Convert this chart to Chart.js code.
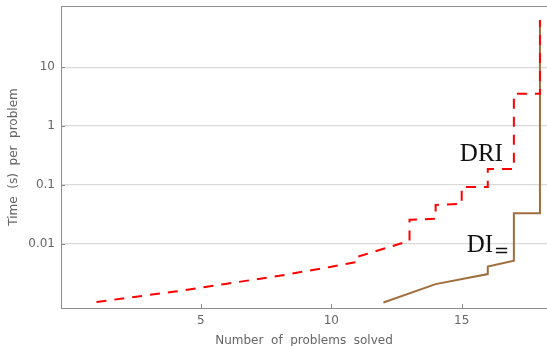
<!DOCTYPE html>
<html>
<head>
<meta charset="utf-8">
<title>Time per problem</title>
<script src="https://cdn.jsdelivr.net/npm/chart.js@4.4.1/dist/chart.umd.min.js"></script>
<style>
html, body { margin: 0; padding: 0; background: #fff; }
canvas { display: block; }
</style>
</head>
<body>
<canvas id="canvas" width="547" height="346"></canvas>
<script>
// cactus data: number of problems solved vs time per problem
var solvedDRI = [1, 2, 3, 4, 5, 6, 7, 8, 9, 10, 11, 11, 12, 13, 13, 14, 14, 15, 15, 16, 16, 17, 17, 18, 18];
var timeDRI = [0.00101, 0.00116, 0.00133, 0.00152, 0.00177, 0.00207, 0.00242, 0.00282, 0.00337, 0.00402,
               0.00489, 0.00594, 0.00813, 0.0111, 0.0253, 0.0263, 0.0455, 0.0473, 0.092, 0.092, 0.186,
               0.186, 3.52, 3.52, 63.7];

var solvedDI = [12, 14, 16, 16, 17, 17, 18, 18];
var timeDI = [0.00099, 0.00204, 0.00302, 0.00407, 0.00508, 0.0329, 0.0329, 63.7];

var xTicks = [5, 10, 15];
var yTicks = [0.01, 0.1, 1, 10];
var yTickLabels = ['0.01', '0.1', '1', '10'];

function toPoints(xs, ys) {
  var pts = [];
  for (var i = 0; i < xs.length; i++) pts.push({x: xs[i], y: ys[i]});
  return pts;
}

var axisGray = '#8c8c8c';
var textGray = '#666666';

var framePlugin = {
  id: 'frame',
  afterDatasetsDraw: function(chart) {
    var ctx = chart.ctx, a = chart.chartArea;
    var xs = chart.scales.x, ys = chart.scales.y;
    ctx.save();
    // top border
    ctx.strokeStyle = axisGray;
    ctx.lineWidth = 1;
    ctx.beginPath();
    ctx.moveTo(a.left, a.top + 0.5);
    ctx.lineTo(a.right, a.top + 0.5);
    ctx.stroke();
    // inner tick marks
    ctx.beginPath();
    xTicks.forEach(function(v) {
      var px = Math.round(xs.getPixelForValue(v)) + 0.5;
      ctx.moveTo(px, a.bottom);
      ctx.lineTo(px, a.bottom - 4);
    });
    yTicks.forEach(function(v) {
      var py = Math.round(ys.getPixelForValue(v)) + 0.5;
      ctx.moveTo(a.left, py);
      ctx.lineTo(a.left + 4, py);
    });
    ctx.stroke();

    // series labels
    ctx.fillStyle = '#111';
    ctx.textAlign = 'left';
    ctx.textBaseline = 'alphabetic';
    ctx.font = '25px "Liberation Serif"';
    ctx.fillText('DRI', xs.getPixelForValue(14.93), ys.getPixelForValue(0.255));
    var dx = xs.getPixelForValue(15.19), dy = ys.getPixelForValue(0.00714);
    ctx.fillText('DI', dx, dy);
    var w = ctx.measureText('DI').width;
    ctx.font = '18px "DejaVu Serif"';
    ctx.fillText('=', dx + w + 1, dy + 5);
    ctx.restore();
  }
};

var config = {
  type: 'line',
  data: {
    datasets: [
      {
        label: 'DRI',
        data: toPoints(solvedDRI, timeDRI),
        borderColor: '#ff0000',
        borderWidth: 2,
        borderDash: [10, 8],
        pointRadius: 0,
        fill: false,
        tension: 0
      },
      {
        label: 'DI=',
        data: toPoints(solvedDI, timeDI),
        borderColor: '#a06e3c',
        borderWidth: 2,
        pointRadius: 0,
        fill: false,
        tension: 0
      }
    ]
  },
  options: {
    responsive: false,
    animation: false,
    devicePixelRatio: 1,
    layout: { padding: { top: 6, right: 0, left: 0, bottom: 0 } },
    plugins: {
      legend: { display: false },
      tooltip: { enabled: false }
    },
    scales: {
      x: {
        type: 'linear',
        min: -0.36,
        max: 18.27,
        grid: { display: false, drawTicks: false },
        border: { display: true, color: axisGray, width: 1 },
        afterBuildTicks: function(scale) {
          scale.ticks = xTicks.map(function(v) { return {value: v}; });
        },
        afterFit: function(scale) {
          scale.height = 38;
          scale.paddingLeft = 0;
          scale.paddingRight = 0;
        },
        ticks: {
          autoSkip: false,
          maxRotation: 0,
          padding: 6,
          color: textGray,
          font: { family: 'DejaVu Sans', size: 12 },
          callback: function(v) { return String(v); }
        },
        title: {
          display: true,
          text: 'Number  of  problems  solved',
          color: textGray,
          font: { family: 'DejaVu Sans', size: 12 },
          padding: { top: 0, bottom: -2 }
        }
      },
      y: {
        type: 'logarithmic',
        min: 0.0008,
        max: 110,
        grid: { display: true, color: '#dadada', lineWidth: 1.3, drawTicks: false },
        border: { display: true, color: axisGray, width: 1 },
        afterBuildTicks: function(scale) {
          scale.ticks = yTicks.map(function(v) { return {value: v}; });
        },
        afterFit: function(scale) {
          scale.width = 61;
          scale.paddingTop = 0;
          scale.paddingBottom = 0;
        },
        ticks: {
          autoSkip: false,
          padding: 6,
          color: textGray,
          font: { family: 'DejaVu Sans', size: 12 },
          callback: function(v) {
            var i = yTicks.indexOf(v);
            return i >= 0 ? yTickLabels[i] : '';
          }
        },
        title: {
          display: true,
          text: 'Time  (s)  per  problem',
          color: textGray,
          font: { family: 'DejaVu Sans', size: 12 },
          padding: { top: 7, bottom: 0 }
        }
      }
    }
  },
  plugins: [framePlugin]
};

new Chart(document.getElementById('canvas'), config);
</script>
</body>
</html>
